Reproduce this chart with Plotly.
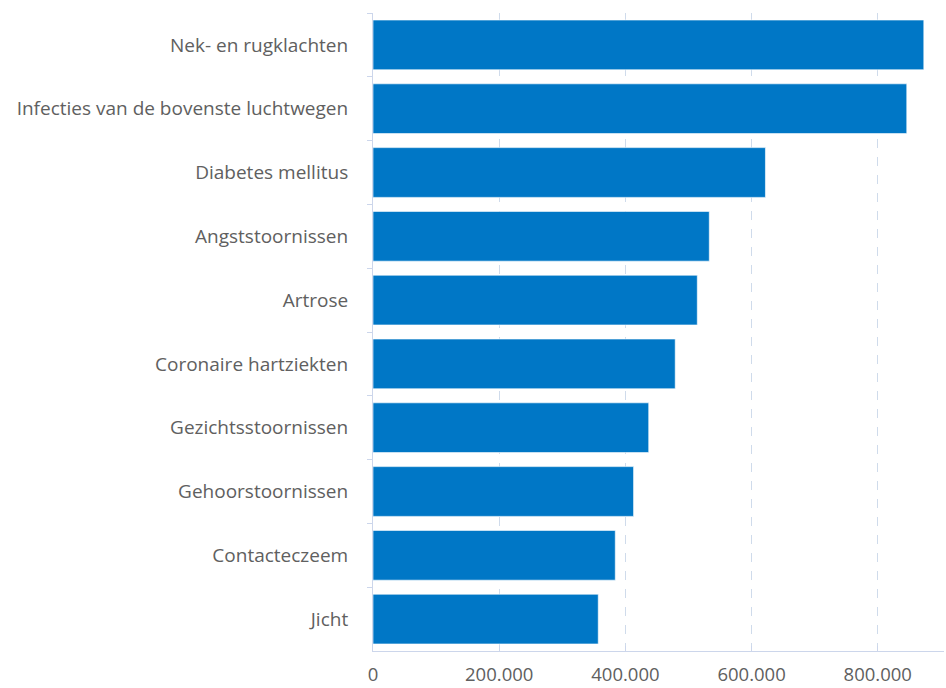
import plotly.graph_objects as go

# Number of patients per condition
categories = [
    "Nek- en rugklachten",
    "Infecties van de bovenste luchtwegen",
    "Diabetes mellitus",
    "Angststoornissen",
    "Artrose",
    "Coronaire hartziekten",
    "Gezichtsstoornissen",
    "Gehoorstoornissen",
    "Contacteczeem",
    "Jicht",
]
patients = [873000, 846000, 622000, 533000, 514000, 479000, 437000, 413000, 384000, 357000]

tick_values = [0, 200000, 400000, 600000, 800000]
tick_labels = ["0", "200.000", "400.000", "600.000", "800.000"]

axis_color = "#ccd6eb"
grid_color = "#cfdbeb"
text_color = "#606060"

fig = go.Figure(
    go.Bar(
        x=patients,
        y=categories,
        orientation="h",
        marker=dict(color="#0077c6", line=dict(color="rgba(255,255,255,0.6)", width=1)),
        width=0.78,
        hoverinfo="x+y",
    )
)

fig.update_layout(
    width=946,
    height=688,
    margin=dict(l=373, r=2, t=13, b=37),
    paper_bgcolor="white",
    plot_bgcolor="white",
    showlegend=False,
    font=dict(family="Open Sans, sans-serif", size=18, color=text_color),
    separators=",.",
)

fig.update_xaxes(
    range=[0, 905000],
    tickvals=tick_values,
    ticktext=tick_labels,
    automargin=False,
    showgrid=True,
    gridcolor=grid_color,
    griddash="dash",
    gridwidth=1.3,
    zeroline=False,
    showline=True,
    linecolor=axis_color,
    linewidth=1,
    ticks="inside",
    ticklen=5,
    tickcolor=axis_color,
    ticklabelstandoff=7,
    tickfont=dict(size=18.5, color=text_color),
)

fig.update_yaxes(
    autorange="reversed",
    automargin=False,
    showgrid=False,
    showline=True,
    linecolor=axis_color,
    linewidth=1,
    ticks="outside",
    tickson="boundaries",
    ticklen=5,
    tickcolor=axis_color,
    ticklabelstandoff=20,
    tickfont=dict(size=19, color=text_color),
)

fig.write_html("out.html")
